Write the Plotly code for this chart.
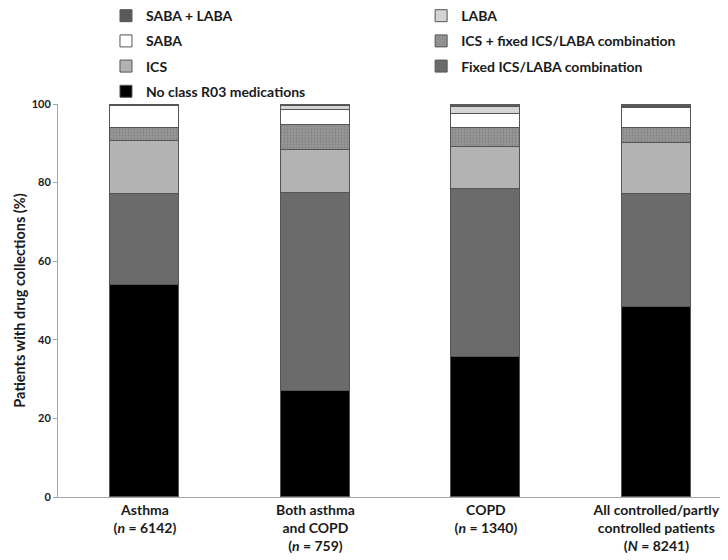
import plotly.graph_objects as go

categories = [
    "Asthma<br>(<i>n</i> = 6142)",
    "Both asthma<br>and COPD<br>(<i>n</i> = 759)",
    "COPD<br>(<i>n</i> = 1340)",
    "All controlled/partly<br>controlled patients<br>(<i>N</i> = 8241)",
]

no_r03 = [54.0, 27.0, 35.6, 48.3]
fixed_combo = [23.0, 50.4, 42.9, 28.9]
ics = [13.7, 11.0, 10.6, 13.0]
ics_plus_fixed = [3.1, 6.3, 4.7, 3.6]
saba = [5.7, 3.9, 3.7, 5.1]
laba = [0.2, 0.9, 1.7, 0.4]
saba_laba = [0.3, 0.5, 0.8, 0.7]

# name, values, colour, pattern, legend box, rank within legend box
series = [
    ("No class R03 medications", no_r03, "#000000", None, "legend", 4),
    ("Fixed ICS/LABA combination", fixed_combo, "#6b6b6b", None, "legend2", 3),
    ("ICS", ics, "#b3b3b3", None, "legend", 3),
    ("ICS + fixed ICS/LABA combination", ics_plus_fixed, "#9a9a9a", ".", "legend2", 2),
    ("SABA", saba, "#ffffff", None, "legend", 2),
    ("LABA", laba, "#d4d4d4", None, "legend2", 1),
    ("SABA + LABA", saba_laba, "#5a5a5a", None, "legend", 1),
]

fig = go.Figure()
xs = list(range(len(categories)))
for name, vals, color, pat, leg, rank in series:
    marker = dict(color=color, line=dict(color="#555555", width=1))
    if pat:
        marker["pattern"] = dict(shape=pat, fgcolor="#6e6e6e", bgcolor=color,
                                 size=3, solidity=0.45)
    fig.add_trace(go.Bar(
        x=xs, y=vals, name=name, marker=marker, width=0.405,
        legend=leg, legendgroup=name, legendrank=rank,
    ))

legend_font = dict(family="Lato", size=14, color="#1a1a1a", weight="bold")
fig.update_layout(
    width=720, height=552,
    barmode="stack",
    plot_bgcolor="white", paper_bgcolor="white",
    margin=dict(l=50, r=0, t=96, b=63, autoexpand=False),
    font=dict(family="Lato", color="#1a1a1a"),
    legend=dict(x=0.0716, y=1.2644, xanchor="left", yanchor="top",
                traceorder="grouped", font=legend_font,
                tracegroupgap=4, bgcolor="rgba(0,0,0,0)"),
    legend2=dict(x=0.542, y=1.2644, xanchor="left", yanchor="top",
                 traceorder="grouped", font=legend_font,
                 tracegroupgap=4, bgcolor="rgba(0,0,0,0)"),
    bargap=0,
)
fig.update_xaxes(
    tickvals=xs, ticktext=categories,
    range=[-0.51, 3.42],
    showline=True, linecolor="#a6a6a6", linewidth=1,
    ticks="", showgrid=False, zeroline=False, automargin=False,
    tickfont=dict(family="Lato", size=14, color="#1a1a1a", weight="bold"),
)
fig.update_yaxes(
    range=[0, 100], tickvals=[0, 20, 40, 60, 80, 100],
    showline=True, linecolor="#a6a6a6", linewidth=1,
    ticks="outside", ticklen=4, tickcolor="#a6a6a6",
    showgrid=False, zeroline=False, automargin=False,
    tickfont=dict(family="Lato", size=11, color="#1a1a1a", weight="bold"),
    title=dict(text="Patients with drug collections (%)",
               font=dict(family="Lato", size=14.5, color="#1a1a1a", weight="bold"),
               standoff=2),
)

fig.write_html("out.html")
